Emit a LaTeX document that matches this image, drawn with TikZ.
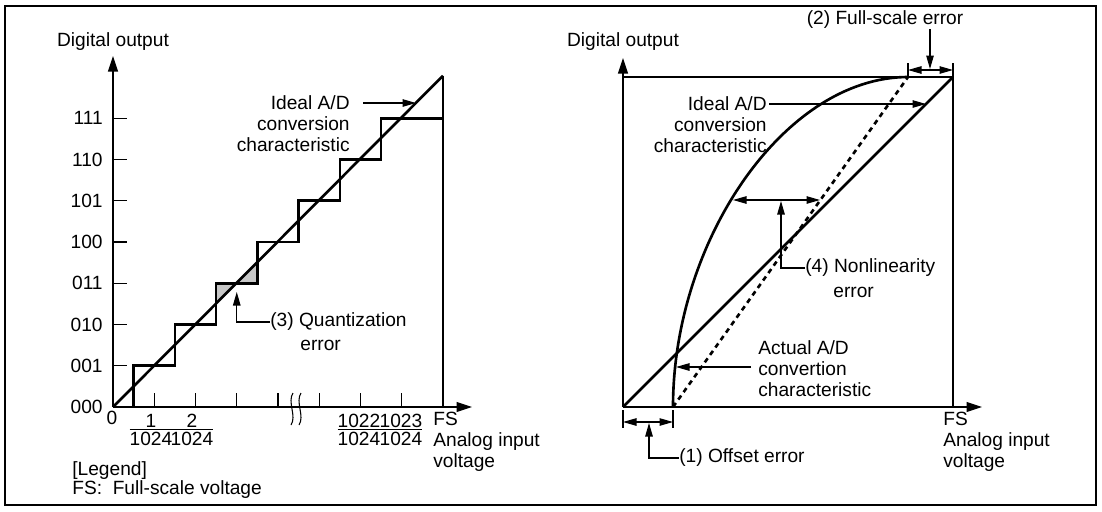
\documentclass[tikz,border=0pt]{standalone}
\usepackage{fontspec}
\setmainfont{Liberation Sans}
\usetikzlibrary{arrows.meta,positioning,calc}

\newcommand{\fracnum}[2]{{\setlength{\arrayrulewidth}{0.6pt}\begin{tabular}{@{}c@{}}#1\\[-3pt]\hline\rule{0pt}{8.6pt}#2\end{tabular}}}

\begin{document}
\begin{tikzpicture}[
x=0.02cm,
y=-0.02cm,
every node/.style={font=\fontsize{10.9}{11.9}\selectfont,inner sep=0pt},
axis/.style={line width=0.6pt,-{Triangle[length=3.1mm,width=2mm]}},
thinline/.style={line width=0.6pt},
thickline/.style={line width=1.5pt},
dashline/.style={line width=1.5pt,dash pattern=on 2.8pt off 2.4pt},
arr/.style={line width=0.6pt,-{Triangle[length=2.7mm,width=1.5mm]}},
dimarr/.style={line width=0.6pt,{Triangle[length=2.7mm,width=1.5mm]}-{Triangle[length=2.7mm,width=1.5mm]}},
qfill/.style={fill=black!22}
]
\useasboundingbox (0,0) rectangle (1102,511);
\draw[line width=1.1pt] (5,6) rectangle (1096,505);

% left graph: quantization
\coordinate (lo) at (113,407);
\coordinate (lytip) at (113,56);
\coordinate (lxtip) at (472,407);
\coordinate (lfs) at (443,407);
\coordinate (ltop) at (443,75.75);

\fill[qfill] (216.125,303.875) -- (216.125,283.25) -- (236.75,283.25) -- cycle;
\fill[qfill] (236.75,283.25) -- (257.375,283.25) -- (257.375,262.625) -- cycle;

\draw[axis] (lo) -- (lytip);
\draw[axis] (lo) -- (lxtip);
\draw[thinline] (lfs) -- (ltop);
\node (ldig) at (113,42) {Digital output};

\foreach \code [count=\n from 0] in {000,001,010,011,100,101,110,111}{
  \node[anchor=east] (lv\code) at (103,{407-41.25*\n}) {\code};
  \ifnum\n>0 \draw[thinline] (113,{407-41.25*\n}) -- ++(14,0); \fi
}
\foreach \k in {1,...,7} \draw[thinline] ({113+41.25*\k},407) -- ++(0,-14);
\foreach \bx in {292,300} \draw[thinline] (\bx+1,393) .. controls (\bx-5,402) and (\bx+5,416) .. (\bx-1,425);

\draw[thickline] (lo) -- (ltop);
\draw[thickline] (133.625,407) |- (174.875,365.75) |- (216.125,324.5) |- (257.375,283.25)
  |- (298.625,242) |- (339.875,200.75) |- (381.125,159.5) |- (443,118.25);

\node (zero) at (112,418) {0};
\node[anchor=north] (f1) at (151,413) {\fracnum{1}{1024}};
\node[anchor=north] (f2) at (192,413) {\fracnum{2}{1024}};
\node[anchor=north] (f1022) at (359,413) {\fracnum{1022}{1024}};
\node[anchor=north] (f1023) at (401,413) {\fracnum{1023}{1024}};
\node[align=left,anchor=north west] (lfsl) at (433,412) {FS\\Analog input\\voltage};

\node[align=right,anchor=east] (lideal) at (350,124) {Ideal A/D\\conversion\\characteristic};
\coordinate (lidfrom) at (363,103);
\coordinate (lidto) at (416,103);
\draw[arr] (lidfrom) -- (lidto);

\node[anchor=west] (qlab) at (270,322) {(3) Quantization};
\node[anchor=west] (qerr) at (300,345) {error};
\coordinate (qtip) at (236.75,292);
\draw[arr] (qlab.west) -| (qtip);

\node[anchor=west] (leg) at (72,471) {[Legend]};
\node[anchor=west] (legfs) at (72,490) {FS:\ \ Full-scale voltage};

% right graph: offset, full-scale, nonlinearity
\coordinate (ro) at (623,407);
\coordinate (rytip) at (623,58);
\coordinate (rxtip) at (982,407);
\coordinate (rfs) at (953,407);
\coordinate (rtop) at (953,77);
\coordinate (rtl) at (623,77);
\coordinate (roff) at (673,407);
\coordinate (rfull) at (908,77);

\draw[axis] (ro) -- (rytip);
\draw[axis] (ro) -- (rxtip);
\draw[thinline] (rtl) -- (rtop) -- (rfs);
\node (rdig) at (623,42) {Digital output};
\node[align=left,anchor=north west] (rfsl) at (943,412) {FS\\Analog input\\voltage};

\draw[thickline] (ro) -- (rtop);
\draw[dashline] (roff) -- (rfull);
\draw[thickline] (roff) .. controls (673,240) and (785,77) .. (rfull);

\node[align=right,anchor=east] (rideal) at (767,125) {Ideal A/D\\conversion\\characteristic};
\coordinate (ridfrom) at (769,104);
\coordinate (ridto) at (926,104);
\draw[arr] (ridfrom) -- (ridto);

\node[align=left,anchor=west] (ract) at (758,369) {Actual A/D\\convertion\\characteristic};
\coordinate (ractfrom) at (751,367);
\coordinate (racttip) at (676,367);
\draw[arr] (ractfrom) -- (racttip);

\coordinate (nla) at (733,200);
\coordinate (nlb) at (820,200);
\draw[dimarr] (nla) -- (nlb);
\node[anchor=west] (nllab) at (805,268) {(4) Nonlinearity};
\node[anchor=west] (nlerr) at (833,292) {error};
\coordinate (nltip) at (781,201);
\draw[arr] (nllab.west) -| (nltip);

\draw[thinline] (623,410) -- (623,428);
\draw[thinline] (673,410) -- (673,428);
\coordinate (offa) at (623,422);
\coordinate (offb) at (673,422);
\draw[dimarr] (offa) -- (offb);
\node[anchor=west] (offlab) at (679,458) {(1) Offset error};
\coordinate (offtip) at (649,423);
\draw[arr] (offlab.west) -| (offtip);

\draw[thinline] (908,63) -- (908,77);
\draw[thinline] (953,63) -- (953,77);
\coordinate (fsa) at (908,70);
\coordinate (fsb) at (953,70);
\draw[dimarr] (fsa) -- (fsb);
\node (fselab) at (885,20) {(2) Full-scale error};
\coordinate (fsetip) at (930,69);
\draw[arr] (fsetip |- fselab.south) -- (fsetip);
\end{tikzpicture}
\end{document}
